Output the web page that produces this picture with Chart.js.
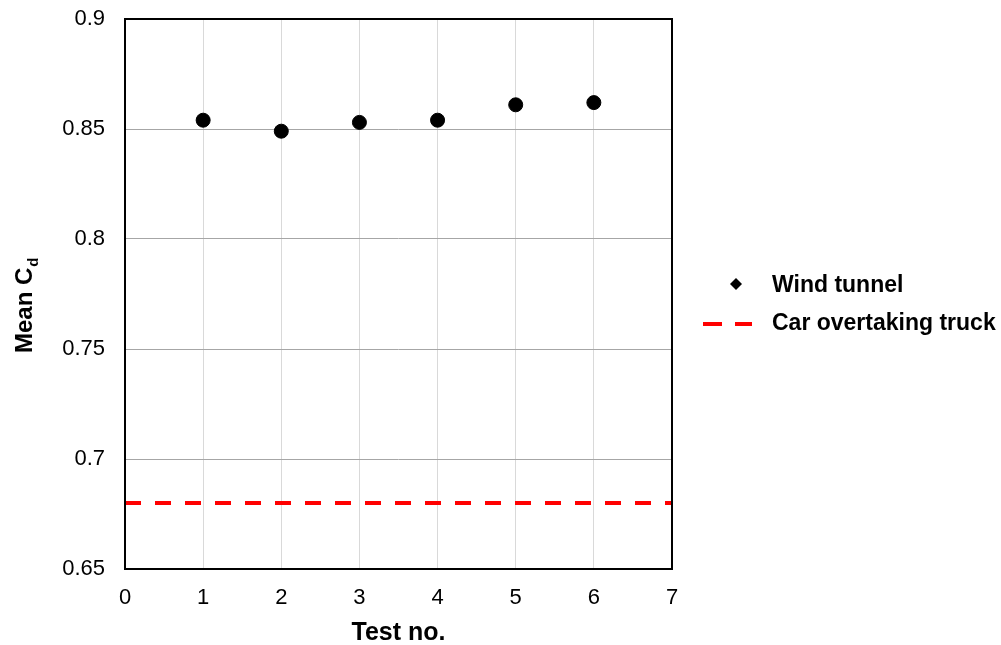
<!DOCTYPE html>
<html>
<head>
<meta charset="utf-8">
<script src="https://cdn.jsdelivr.net/npm/chart.js@4.4.1/dist/chart.umd.min.js"></script>
<style>
  body { margin: 0; background: #fff; }
  #wrap { width: 1001px; height: 645px; }
</style>
</head>
<body>
<div id="wrap"><canvas id="chartCd"></canvas></div>
<script>
let testNo = [1, 2, 3, 4, 5, 6];
let meanCd = [0.854, 0.849, 0.853, 0.854, 0.861, 0.862];
let overtakeX = [0, 7];
let overtakeCd = [0.68, 0.68];
let yTickLabels = ['0.65', '0.7', '0.75', '0.8', '0.85', '0.9'];
let seriesNames = ['Wind tunnel', 'Car overtaking truck'];

const FONT = 'Arial, "Liberation Sans", sans-serif';
Chart.defaults.font.family = FONT;
Chart.defaults.color = '#000';

// box round the plot, like the excel frame
const frame = {
  id: 'frame',
  afterDatasetsDraw(chart) {
    const a = chart.chartArea;
    const ctx = chart.ctx;
    ctx.save();
    ctx.strokeStyle = '#000';
    ctx.lineWidth = 2;
    ctx.strokeRect(a.left, a.top, a.right - a.left, a.bottom - a.top);
    ctx.restore();
  }
};

// y title with subscript d + legend on the right
const extras = {
  id: 'extras',
  afterDraw(chart) {
    const ctx = chart.ctx;
    const ds = chart.data.datasets;
    ctx.save();
    ctx.fillStyle = '#000';

    ctx.save();
    ctx.translate(32, 353);
    ctx.rotate(-Math.PI / 2);
    ctx.font = 'bold 24px ' + FONT;
    ctx.textBaseline = 'alphabetic';
    ctx.fillText('Mean C', 0, 0);
    let w = ctx.measureText('Mean C').width;
    ctx.font = 'bold 15px ' + FONT;
    ctx.fillText('d', w + 1, 6);
    ctx.restore();

    ctx.font = 'bold 23px ' + FONT;
    ctx.textBaseline = 'middle';
    // diamond marker
    ctx.beginPath();
    ctx.moveTo(736, 278);
    ctx.lineTo(742, 284);
    ctx.lineTo(736, 290);
    ctx.lineTo(730, 284);
    ctx.closePath();
    ctx.fill();
    ctx.fillText(ds[0].label, 772, 286);

    ctx.strokeStyle = ds[1].borderColor;
    ctx.lineWidth = 4;
    ctx.setLineDash([19, 13]);
    ctx.beginPath();
    ctx.moveTo(703, 324);
    ctx.lineTo(752, 324);
    ctx.stroke();
    ctx.fillText(ds[1].label, 772, 324);
    ctx.restore();
  }
};

let ctxCd = document.getElementById('chartCd').getContext('2d');
let chartCd = new Chart(ctxCd, {
  data: {
    datasets: [{
      type: 'scatter',
      label: seriesNames[0],
      data: testNo.map((x, i) => ({ x: x, y: meanCd[i] })),
      backgroundColor: '#000',
      borderColor: '#000',
      pointRadius: 7,
      pointHoverRadius: 7
    }, {
      type: 'line',
      label: seriesNames[1],
      data: overtakeX.map((x, i) => ({ x: x, y: overtakeCd[i] })),
      borderColor: '#ff0000',
      borderWidth: 4,
      borderDash: [16, 14],
      pointRadius: 0,
      fill: false
    }]
  },
  options: {
    responsive: true,
    maintainAspectRatio: false,
    animation: false,
    layout: { padding: { top: 19, right: 329, left: 0, bottom: 0 } },
    plugins: { legend: { display: false }, tooltip: { enabled: false } },
    scales: {
      x: {
        type: 'linear',
        min: 0, max: 7,
        ticks: { stepSize: 1, padding: 16, font: { size: 22 } },
        grid: { color: '#d9d9d9', drawTicks: false },
        border: { display: false },
        title: { display: true, text: 'Test no.', font: { size: 25, weight: 'bold' }, padding: { top: 0, bottom: -3 } },
        afterFit(scale) { scale.height = 76; }
      },
      y: {
        min: 0.65, max: 0.9,
        ticks: {
          stepSize: 0.05, padding: 20, font: { size: 22 },
          callback: (v, i) => yTickLabels[i]
        },
        grid: { color: '#a6a6a6', drawTicks: false },
        border: { display: false },
        afterFit(scale) {
          scale.width = 125;
          scale.paddingTop = 0;
          scale.paddingBottom = 0;
        }
      }
    }
  },
  plugins: [frame, extras]
});
</script>
</body>
</html>
